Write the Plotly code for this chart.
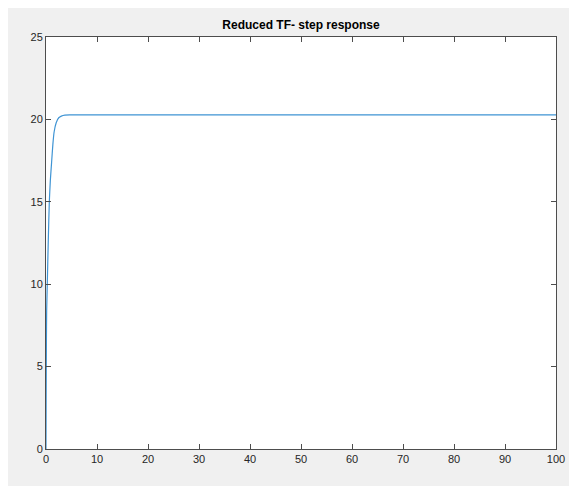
import plotly.graph_objects as go

# step response
time_s = [0, 0.03, 0.08, 0.13, 0.25, 0.45, 0.65, 0.85, 1.1, 1.35, 1.6, 2.0, 2.5, 3.0, 3.7, 5, 100]
amplitude = [0, 3.0, 6.5, 8.4, 10.0, 12.7, 15.0, 16.3, 17.4, 18.5, 19.25, 19.8, 20.1, 20.2, 20.26, 20.27, 20.27]

x_ticks = [0, 10, 20, 30, 40, 50, 60, 70, 80, 90, 100]
y_ticks = [0, 5, 10, 15, 20, 25]

AXIS_COLOR = '#4d4d4d'
TEXT_COLOR = '#262626'

fig = go.Figure()

fig.add_trace(go.Scatter(
  x=time_s,
  y=amplitude,
  mode='lines',
  line=dict(color='#3f94d4', width=1.2, shape='spline', smoothing=0.6),
  showlegend=False
))

axis_style = dict(
  showline=True,
  linecolor=AXIS_COLOR,
  linewidth=1,
  mirror='ticks',
  ticks='inside',
  ticklen=5,
  tickcolor=AXIS_COLOR,
  showgrid=False,
  zeroline=False,
  tickfont=dict(family='Liberation Sans, Arial', size=11, color=TEXT_COLOR)
)

fig.update_xaxes(range=[0, 100], tickvals=x_ticks, **axis_style)
fig.update_yaxes(range=[0, 25], tickvals=y_ticks, **axis_style)

# page body adds 8px white around the figure, which gives the thin frame
fig.update_layout(
  width=569,
  height=478,
  margin=dict(l=38, r=21, t=29, b=37),
  paper_bgcolor='#f0f0f0',
  plot_bgcolor='white',
  title=dict(
    text='<b>Reduced TF- step response</b>',
    xref='paper', x=0.5, xanchor='center',
    y=1 - 17 / 478, yanchor='middle',
    font=dict(family='Liberation Sans, Arial', size=12, color='#000000')
  )
)

fig.write_html('out.html')
